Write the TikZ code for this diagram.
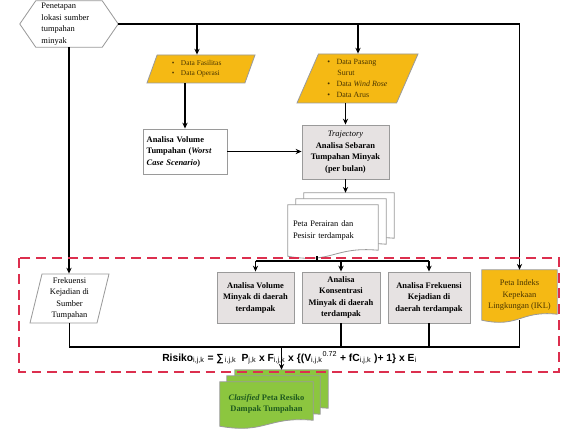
\documentclass[tikz,border=0pt]{standalone}
\usepackage{fontspec}
\setmainfont{Liberation Serif}
\newfontfamily\formulafont{Liberation Sans}
\usepackage{tikz}
\usetikzlibrary{shapes.geometric, arrows.meta, positioning, calc, backgrounds}
\usepackage{xcolor}
\definecolor{dataYellow}{HTML}{F5B914}
\definecolor{boxGray}{HTML}{E6E2E2}
\definecolor{edgeGray}{HTML}{9A9A9A}
\definecolor{mapGreen}{HTML}{8CC63F}
\definecolor{textGreen}{HTML}{1F5A1F}
\definecolor{textBrown}{HTML}{4A3500}
\definecolor{zoneRed}{HTML}{DC2F4E}

% document outline round a node: node, offset, style
\newcommand{\docoutline}[3]{%
  \draw[#3] ($(#1.north west)+#2$) -- ($(#1.south west)+#2$)
    .. controls ($(#1.south)+#2+(0,8)$) and ($(#1.south)+#2+(0,-10)$) .. ($(#1.south east)+#2+(0,-6)$)
    -- ($(#1.north east)+#2$) -- cycle;
}

\begin{document}
\begin{tikzpicture}[x=0.03cm, y=-0.03cm,
    flowline/.style={line width=1pt, black},
    arrowline/.style={flowline, -{Stealth[length=5pt, width=4.5pt]}},
    databox/.style={trapezium, trapezium left angle=62, trapezium right angle=118,
        trapezium stretches body, draw=edgeGray, line width=0.7pt, fill=dataYellow,
        text=textBrown, inner sep=1pt},
    procbox/.style={rectangle, draw=edgeGray, line width=0.8pt, fill=boxGray,
        font=\fontsize{7.2}{9.8}\selectfont\bfseries, align=center, inner sep=1pt},
    docbox/.style={rectangle, inner sep=1pt, font=\fontsize{7.2}{9.8}\selectfont},
    docline/.style={draw=edgeGray, line width=0.7pt},
    zone/.style={draw=zoneRed, line width=1.6pt, dash pattern=on 8.5pt off 5pt}]
    \useasboundingbox (0,0) rectangle (563,432);

    % Start
    \node[docbox, minimum width=2.94cm, minimum height=1.38cm, text width=1.65cm, align=left]
        (lokasi) at (69,24) {Penetapan\\lokasi sumber\\tumpahan\\minyak};

    % Input data
    \node[databox, minimum width=3.24cm, minimum height=0.84cm, font=\fontsize{6.3}{8.5}\selectfont, align=left]
        (fasilitas) at (201,69) {\textbullet\hspace{0.9em}Data Fasilitas\hspace*{1.2em}\\\textbullet\hspace{0.9em}Data Operasi\hspace*{1.2em}};
    \node[databox, minimum width=3.63cm, minimum height=1.47cm, font=\fontsize{6.8}{9.3}\selectfont, align=left]
        (pasang) at (357.5,78.5) {\textbullet\hspace{0.8em}Data Pasang\\\hspace{1.25em}Surut\\\textbullet\hspace{0.8em}Data \textit{Wind Rose}\\\textbullet\hspace{0.8em}Data Arus};

    % Analysis
    \node[procbox, fill=white, minimum width=2.52cm, minimum height=1.35cm, text width=2.3cm, align=left]
        (volume) at (185,151.5) {Analisa Volume\\Tumpahan (\textit{Worst}\\\textit{Case Scenario})};
    \node[procbox, minimum width=2.61cm, minimum height=1.62cm]
        (traj) at (345.5,152) {\textmd{\textit{Trajectory}}\\Analisa Sebaran\\Tumpahan Minyak\\(per bulan)};
    \node[docbox, minimum width=2.7cm, minimum height=1.53cm, text width=2.4cm, align=left]
        (perairan) at (333,230.5) {Peta Perairan dan\\Pesisir terdampak};

    % Zone boxes
    \node[procbox, minimum width=2.31cm, minimum height=1.53cm] (volDaerah) at (255.5,297.5)
        {Analisa Volume\\Minyak di daerah\\terdampak};
    \node[procbox, minimum width=2.34cm, minimum height=1.53cm] (konsDaerah) at (341,297.5)
        {Analisa\\Konsentrasi\\Minyak di daerah\\terdampak};
    \node[procbox, minimum width=2.46cm, minimum height=1.53cm] (frekDaerah) at (429,297.5)
        {Analisa Frekuensi\\Kejadian di\\daerah terdampak};
    \node[docbox, minimum width=2.25cm, minimum height=1.5cm, align=center, text=textBrown]
        (ikl) at (519.5,295) {Peta Indeks\\Kepekaan\\Lingkungan (IKL)};
    \node[databox, trapezium left angle=75, trapezium right angle=105, fill=white, text=black,
        minimum width=2.37cm, minimum height=1.47cm, align=center, font=\fontsize{7.2}{9.9}\selectfont]
        (frek) at (69.5,298.5) {Frekuensi\\Kejadian di\\Sumber\\Tumpahan};

    % Formula and result
    \node[font=\formulafont\bfseries\fontsize{8.8}{10}\selectfont] (rumus) at (289.5,358)
        {Risiko\textsubscript{\mdseries i,j,k} = ∑\textsubscript{\mdseries\,i,j,k}\enspace P\textsubscript{\mdseries j,k} x F\textsubscript{\mdseries i,j,k} x \{(V\textsubscript{\mdseries i,j,k}\textsuperscript{\mdseries 0.72} + fC\textsubscript{\mdseries i,j,k} )+ 1\} x E\textsubscript{\mdseries i}};
    \node[docbox, minimum width=2.79cm, minimum height=1.32cm, align=center, text=textGreen,
        font=\fontsize{7.2}{9.8}\selectfont\bfseries]
        (hasil) at (266.5,404) {\textit{Clasified} Peta Resiko\\Dampak Tumpahan};

    % Outlines behind the texts
    \begin{scope}[on background layer]
        \draw[docline, fill=white] (lokasi.west) -- ($(lokasi.north west)+(16,0)$)
            -- ($(lokasi.north east)+(-16,0)$) -- (lokasi.east)
            -- ($(lokasi.south east)+(-16,0)$) -- ($(lokasi.south west)+(16,0)$) -- cycle;
        \docoutline{perairan}{(16,-12)}{docline, fill=white}
        \docoutline{perairan}{(8,-6)}{docline, fill=white}
        \docoutline{perairan}{(0,0)}{docline, fill=white}
        \docoutline{ikl}{(0,0)}{docline, fill=dataYellow}
        \docoutline{hasil}{(15,-12)}{docline, fill=mapGreen}
        \docoutline{hasil}{(7,-6)}{docline, fill=mapGreen}
        \docoutline{hasil}{(0,0)}{docline, fill=mapGreen}
    \end{scope}

    % Connectors
    \coordinate (jFas) at (197,24);
    \coordinate (jPas) at (358,24);
    \coordinate (bus) at (317,261);
    \coordinate (base) at (0,347);
    \coordinate (perairanTop) at ($(perairan.north)+(16,-12)$);
    \coordinate (hasilTop) at ($(hasil.north)+(15,-12)$);

    \draw[arrowline] (lokasi.east) -| (ikl.north);
    \draw[arrowline] (jFas) -- (jFas |- fasilitas.north);
    \draw[arrowline] (jPas) -- (jPas |- pasang.north);
    \draw[arrowline] (volume.north |- fasilitas.south) -- (volume.north);
    \draw[arrowline] (traj.north |- pasang.south) -- (traj.north);
    \draw[arrowline] (volume.east) -- (volume.east -| traj.west);
    \draw[arrowline] (traj.south) -- (traj.south |- perairanTop);
    \draw[flowline] (perairan.south -| bus) -- (bus);
    \draw[flowline] (volDaerah.north |- bus) -- (frekDaerah.north |- bus);
    \foreach \zbox in {volDaerah, konsDaerah, frekDaerah}
        \draw[arrowline] (\zbox.north |- bus) -- (\zbox.north);
    \draw[arrowline] (lokasi.south) -- (lokasi.south |- frek.north);
    \draw[flowline] (frek.south) |- (ikl.south |- base) -- (ikl.south);
    \draw[flowline] (konsDaerah.south) -- (konsDaerah.south |- base);
    \draw[flowline] (frekDaerah.south) -- (frekDaerah.south |- base);
    \draw[arrowline] (hasilTop |- base) -- (hasilTop);

    % Zone
    \draw[zone] (19,258) rectangle (559,372);
\end{tikzpicture}
\end{document}
